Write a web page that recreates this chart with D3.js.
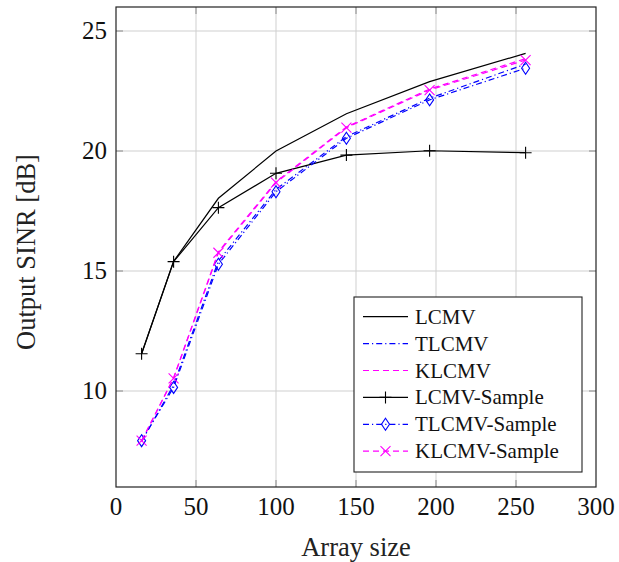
<!DOCTYPE html>
<html>
<head>
<meta charset="utf-8">
<script src="https://cdn.jsdelivr.net/npm/d3@7/dist/d3.min.js"></script>
<style>
  html, body { margin: 0; padding: 0; background: #fff; }
  svg { display: block; font-family: "Liberation Serif", "DejaVu Serif", serif; }
</style>
</head>
<body>
<svg id="chart" width="619" height="562"></svg>
<script>
// array sizes on the x axis
const arraySizes = [16, 36, 64, 100, 144, 196, 256];

// output SINR in dB
const lcmv = [11.55, 15.4, 18.03, 20.0, 21.55, 22.89, 24.07];
const tlcmv = [7.9, 10.25, 15.42, 18.4, 20.6, 22.2, 23.62];
const klcmv = [7.9, 10.55, 15.8, 18.72, 21.0, 22.58, 23.85];
const lcmvSample = [11.55, 15.39, 17.64, 19.07, 19.83, 20.01, 19.93];
const tlcmvSample = [7.93, 10.15, 15.28, 18.3, 20.53, 22.13, 23.45];
const klcmvSample = [7.93, 10.53, 15.76, 18.68, 20.97, 22.54, 23.79];

const xTicks = [0, 50, 100, 150, 200, 250, 300];
const yTicks = [10, 15, 20, 25];

const series = [
  { name: "LCMV", values: lcmv, color: "#000", dash: null, marker: null },
  { name: "TLCMV", values: tlcmv, color: "#0000ff", dash: "6,3,1.2,3", marker: null },
  { name: "KLCMV", values: klcmv, color: "#ff00ff", dash: "6,4", marker: null },
  { name: "LCMV-Sample", values: lcmvSample, color: "#000", dash: null, marker: "plus" },
  { name: "TLCMV-Sample", values: tlcmvSample, color: "#0000ff", dash: "6,3,1.2,3", marker: "diamond" },
  { name: "KLCMV-Sample", values: klcmvSample, color: "#ff00ff", dash: "6,4", marker: "cross" },
];

const plotL = 116, plotR = 596, plotT = 7, plotB = 487;

const svg = d3.select("#chart");
const x = d3.scaleLinear().domain([0, 300]).range([plotL, plotR]);
const y = d3.scaleLinear().domain([6, 26]).range([plotB, plotT]);

// grid
const grid = svg.append("g").attr("stroke", "#cfcfcf").attr("stroke-width", 1);
grid.selectAll(".gx").data(xTicks.slice(1, -1)).join("line")
  .attr("x1", (d) => x(d)).attr("x2", (d) => x(d))
  .attr("y1", plotT).attr("y2", plotB);
grid.selectAll(".gy").data(yTicks).join("line")
  .attr("x1", plotL).attr("x2", plotR)
  .attr("y1", (d) => y(d)).attr("y2", (d) => y(d));

// inward ticks on all four sides
const tl = 7;
const ticks = svg.append("g").attr("stroke", "#8a8a8a").attr("stroke-width", 1);
xTicks.slice(1, -1).forEach((t) => {
  ticks.append("line").attr("x1", x(t)).attr("x2", x(t)).attr("y1", plotB).attr("y2", plotB - tl);
  ticks.append("line").attr("x1", x(t)).attr("x2", x(t)).attr("y1", plotT).attr("y2", plotT + tl);
});
yTicks.forEach((t) => {
  ticks.append("line").attr("x1", plotL).attr("x2", plotL + tl).attr("y1", y(t)).attr("y2", y(t));
  ticks.append("line").attr("x1", plotR).attr("x2", plotR - tl).attr("y1", y(t)).attr("y2", y(t));
});

// tick labels
svg.append("g").selectAll("text").data(xTicks).join("text")
  .attr("x", (d) => x(d)).attr("y", plotB + 28)
  .attr("text-anchor", "middle").attr("font-size", 25).attr("fill", "#111")
  .text((d) => d);
svg.append("g").selectAll("text").data(yTicks).join("text")
  .attr("x", plotL - 9).attr("y", (d) => y(d) + 8)
  .attr("text-anchor", "end").attr("font-size", 25).attr("fill", "#111")
  .text((d) => d);

// axis titles
svg.append("text")
  .attr("x", (plotL + plotR) / 2).attr("y", 556)
  .attr("text-anchor", "middle").attr("font-size", 26.5).attr("fill", "#222")
  .text("Array size");
svg.append("text")
  .attr("transform", `translate(35,${(plotT + plotB) / 2 + 5}) rotate(-90)`)
  .attr("text-anchor", "middle").attr("font-size", 26.5).attr("fill", "#222")
  .text("Output SINR [dB]");

// marker drawing
function drawMarker(g, type, cx, cy, color) {
  if (type === "plus") {
    g.append("path").attr("d", `M${cx - 6},${cy}H${cx + 6}M${cx},${cy - 6}V${cy + 6}`)
      .attr("stroke", color).attr("stroke-width", 1.1).attr("fill", "none");
  } else if (type === "diamond") {
    g.append("path").attr("d", `M${cx},${cy - 6}L${cx + 4},${cy}L${cx},${cy + 6}L${cx - 4},${cy}Z`)
      .attr("stroke", color).attr("stroke-width", 1.1).attr("fill", "none");
  } else if (type === "cross") {
    g.append("path").attr("d", `M${cx - 5},${cy - 5}L${cx + 5},${cy + 5}M${cx - 5},${cy + 5}L${cx + 5},${cy - 5}`)
      .attr("stroke", color).attr("stroke-width", 1.1).attr("fill", "none");
  }
}

// series
const line = d3.line().x((d) => x(d[0])).y((d) => y(d[1]));
series.forEach((s) => {
  const pts = arraySizes.map((a, i) => [a, s.values[i]]);
  const g = svg.append("g");
  g.append("path").datum(pts).attr("d", line)
    .attr("fill", "none").attr("stroke", s.color).attr("stroke-width", 1.2)
    .attr("stroke-dasharray", s.dash);
  if (s.marker) pts.forEach((p) => drawMarker(g, s.marker, x(p[0]), y(p[1]), s.color));
});

// frame
svg.append("rect").attr("x", plotL).attr("y", plotT)
  .attr("width", plotR - plotL).attr("height", plotB - plotT)
  .attr("fill", "none").attr("stroke", "#222").attr("stroke-width", 1.2);

// legend
const lg = svg.append("g");
lg.append("rect").attr("x", 354).attr("y", 297).attr("width", 228).attr("height", 175)
  .attr("fill", "#fff").attr("stroke", "#222").attr("stroke-width", 1.1);
series.forEach((s, i) => {
  const cy = 316.7 + i * 26.9;
  lg.append("line").attr("x1", 363).attr("x2", 408).attr("y1", cy).attr("y2", cy)
    .attr("stroke", s.color).attr("stroke-width", 1.2).attr("stroke-dasharray", s.dash);
  if (s.marker) drawMarker(lg, s.marker, 385.5, cy, s.color);
  lg.append("text").attr("x", 415).attr("y", cy + 7)
    .attr("font-size", 21).attr("fill", "#111").text(s.name);
});
</script>
</body>
</html>
